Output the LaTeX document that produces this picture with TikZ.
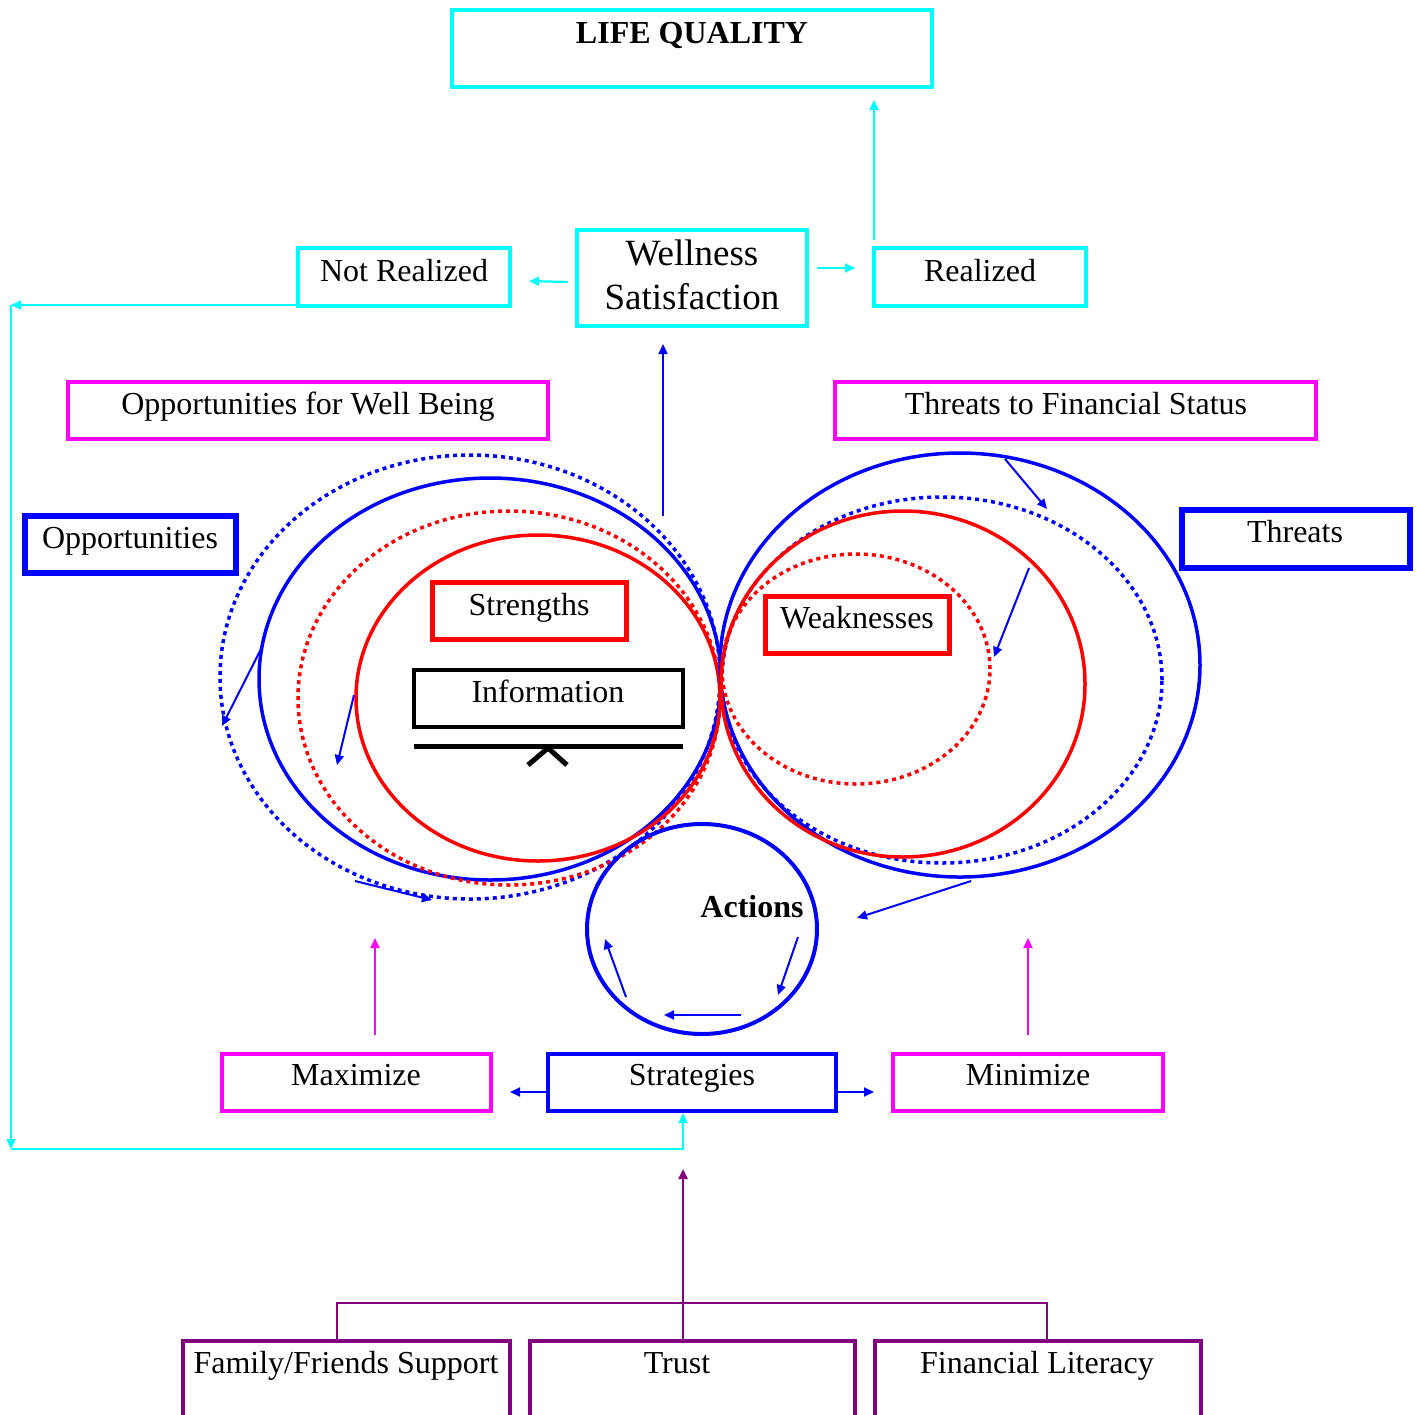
\documentclass[tikz,border=0pt]{standalone}
\usepackage{fontspec}
\setmainfont{Liberation Serif}
\usetikzlibrary{arrows.meta,shapes.geometric,calc}
\definecolor{pur}{RGB}{128,0,128}
\definecolor{cy}{RGB}{0,255,255}
\definecolor{mg}{RGB}{255,0,255}
\definecolor{bl}{RGB}{0,0,255}
\definecolor{rd}{RGB}{255,0,0}
\begin{document}
\begin{tikzpicture}[x=0.5pt,y=-0.5pt,
  tri/.style={-{Triangle[length=5pt,width=4.5pt]}},
  box/.style={rectangle,inner sep=0pt,outer sep=0pt,anchor=north west},
  cybox/.style={box,draw=cy,line width=2pt},
  mgbox/.style={box,draw=mg,line width=2pt},
  bbox/.style={box,draw=bl,line width=2.8pt},
  sbbox/.style={box,draw=bl,line width=2pt},
  rbox/.style={box,draw=rd,line width=2.5pt},
  kbox/.style={box,draw=black,line width=1.7pt},
  pbox/.style={box,draw=pur,line width=1.7pt},
  txt/.style={anchor=base,inner sep=0pt,font=\fontsize{16}{19}\selectfont},
  bigtxt/.style={anchor=base,inner sep=0pt,font=\fontsize{18.5}{22}\selectfont},
  ell/.style={ellipse,inner sep=0pt,outer sep=0pt,line width=1.75pt},
  dots/.style={dash pattern=on 2pt off 2pt},
  cyl/.style={draw=cy,line width=1.1pt,tri},
  bll/.style={draw=bl,line width=1pt,tri},
  ml/.style={draw=mg,line width=1pt,tri},
  pl/.style={draw=pur,line width=1.2pt}
]
\useasboundingbox (0,0) rectangle (1417,1414);
\clip (0,0) rectangle (1417,1414);

% ellipses - left group
\node[ell,draw=bl,dots,minimum width=250pt,minimum height=222pt] (lbd) at (470,677) {};
\node[ell,draw=bl,minimum width=231pt,minimum height=201pt] (lbs) at (490,679) {};
\node[ell,draw=rd,dots,minimum width=211pt,minimum height=187pt] (lrd) at (509,698) {};
\node[ell,draw=rd,minimum width=182pt,minimum height=163pt] (lrs) at (538,698) {};
% ellipses - right group
\node[ell,draw=bl,minimum width=240pt,minimum height=212pt] (rbs) at (960,665) {};
\node[ell,draw=bl,dots,minimum width=220pt,minimum height=183pt] (rbd) at (942,680) {};
\node[ell,draw=rd,minimum width=182pt,minimum height=173pt] (rrs) at (903,684) {};
\node[ell,draw=rd,dots,minimum width=134pt,minimum height=115pt] (rrd) at (856,669) {};
% actions circle
\node[ell,draw=bl,line width=2pt,minimum width=115pt,minimum height=105pt] (act) at (702,929) {};

% boxes
\node[cybox,minimum width=240pt,minimum height=38.5pt] (lq) at (452,10) {};
\node[cybox,minimum width=115pt,minimum height=48pt] (ws) at (577,230) {};
\node[cybox,minimum width=106pt,minimum height=29pt] (nr) at (298,248) {};
\node[cybox,minimum width=106pt,minimum height=29pt] (rl) at (874,248) {};
\node[mgbox,minimum width=240pt,minimum height=28.5pt] (ow) at (68,382) {};
\node[mgbox,minimum width=240.5pt,minimum height=28.5pt] (tf) at (835,382) {};
\node[bbox,minimum width=105.5pt,minimum height=28.5pt] (op) at (25,516) {};
\node[bbox,minimum width=114pt,minimum height=29pt] (th) at (1182,510) {};
\node[rbox,minimum width=97pt,minimum height=28.5pt] (st) at (432,582) {};
\node[rbox,minimum width=92pt,minimum height=28.5pt] (wk) at (765,596) {};
\node[kbox,minimum width=134.5pt,minimum height=28.5pt] (inf) at (414,670) {};
\node[mgbox,minimum width=134.5pt,minimum height=28.5pt] (mx) at (222,1054) {};
\node[sbbox,minimum width=144pt,minimum height=28.5pt] (sg) at (548,1054) {};
\node[mgbox,minimum width=135pt,minimum height=28.5pt] (mn) at (893,1054) {};
\node[pbox,minimum width=163.5pt,minimum height=49.5pt] (ff) at (183,1341) {};
\node[pbox,minimum width=162.5pt,minimum height=49.5pt] (tr) at (530,1341) {};
\node[pbox,minimum width=163pt,minimum height=49.5pt] (fl) at (875,1341) {};

% texts
\node[txt] (tlq) at (692,43) {\bfseries LIFE QUALITY};
\node[bigtxt] (tws1) at (692,265) {Wellness};
\node[bigtxt] (tws2) at (692,309) {Satisfaction};
\node[txt] (tnr) at (404,281) {Not Realized};
\node[txt] (trl) at (980,281) {Realized};
\node[txt] (tow) at (308,414) {Opportunities for Well Being};
\node[txt] (ttf) at (1076,414) {Threats to Financial Status};
\node[txt] (top) at (130,548) {Opportunities};
\node[txt] (tth) at (1295,542) {Threats};
\node[txt] (tst) at (529,615) {Strengths};
\node[txt] (twk) at (857,628) {Weaknesses};
\node[txt] (tinf) at (548,702) {Information};
\node[txt] (tact) at (752,917) {\bfseries Actions};
\node[txt] (tmx) at (356,1085) {Maximize};
\node[txt] (tsg) at (692,1085) {Strategies};
\node[txt] (tmn) at (1028,1085) {Minimize};
\node[txt] (tff) at (346,1373) {Family/Friends Support};
\node[txt] (ttr) at (677,1373) {Trust};
\node[txt] (tfl) at (1037,1373) {Financial Literacy};

% balance symbol under Information
\draw[line width=2.5pt] ($(inf.south west)+(0,19)$) -- ($(inf.south east)+(0,19)$);
\draw[line width=2.5pt] (528,765) -- (548,748) -- (567,765);

% cyan connectors
\draw[cyl] ($(ws.west)+(-9,4)$) -- ($(nr.east)+(19,4)$);
\draw[cyl] ($(ws.east)+(10,-10)$) -- ($(rl.west)+(-19,-9)$);
\draw[cyl] ($(rl.north west)+(0,-8)$) -- ($(lq.south -| rl.north west)+(0,13)$);
\coordinate (c1) at (11,305);
\coordinate (c2) at (11,1149);
\coordinate (c3) at (683,1149);
\draw[cyl] ($(nr.south west)+(0,-1)$) -- (c1);
\draw[cyl] (c1) -- (c2);
\draw[cyl] (c2) -- (c3) -- ($(c3 |- sg.south)+(0,2)$);

% blue to wellness
\coordinate (e1) at (663,516);
\draw[bll] (e1) -- ($(e1 |- ws.south)+(0,18)$);

% strategies to maximize / minimize
\draw[bll] ($(sg.west)+(0,9.5)$) -- ($(mx.east)+(19,9.5)$);
\draw[bll] ($(sg.east)+(0,9.5)$) -- ($(mn.west)+(-19,9.5)$);

% magenta up arrows
\draw[ml] ($(mx.north)+(18.5,-19)$) -- ($(mx.north)+(18.5,-116)$);
\draw[ml] ($(mn.north)+(0,-19)$) -- ($(mn.north)+(0,-116)$);

% small blue arrows on ellipses
\coordinate (a1s) at (261,649); \coordinate (a1e) at (222,726);
\coordinate (a2s) at (354,695); \coordinate (a2e) at (337,765);
\coordinate (a3s) at (355,881); \coordinate (a3e) at (432,900);
\coordinate (a4s) at (1005,459); \coordinate (a4e) at (1047,509);
\coordinate (a5s) at (1029,568); \coordinate (a5e) at (994,657);
\coordinate (a6s) at (971,881); \coordinate (a6e) at (857,918);
\coordinate (a7s) at (798,937); \coordinate (a7e) at (778,995);
\coordinate (a8s) at (741,1015); \coordinate (a8e) at (664,1015);
\coordinate (a9s) at (626,997); \coordinate (a9e) at (605,939);
\foreach \i in {1,...,9} {\draw[bll] (a\i s) -- (a\i e);}

% purple tree
\draw[pl,-{Triangle[length=5pt,width=4.5pt]}] ($(tr.north)+(-9.5,0)$) -- ($(tr.north)+(-9.5,-172)$);
\draw[pl] ($(ff.north)+(-9.5,0)$) |- ($(fl.north)+(9,-38)$) -- ($(fl.north)+(9,0)$);
\end{tikzpicture}
\end{document}
